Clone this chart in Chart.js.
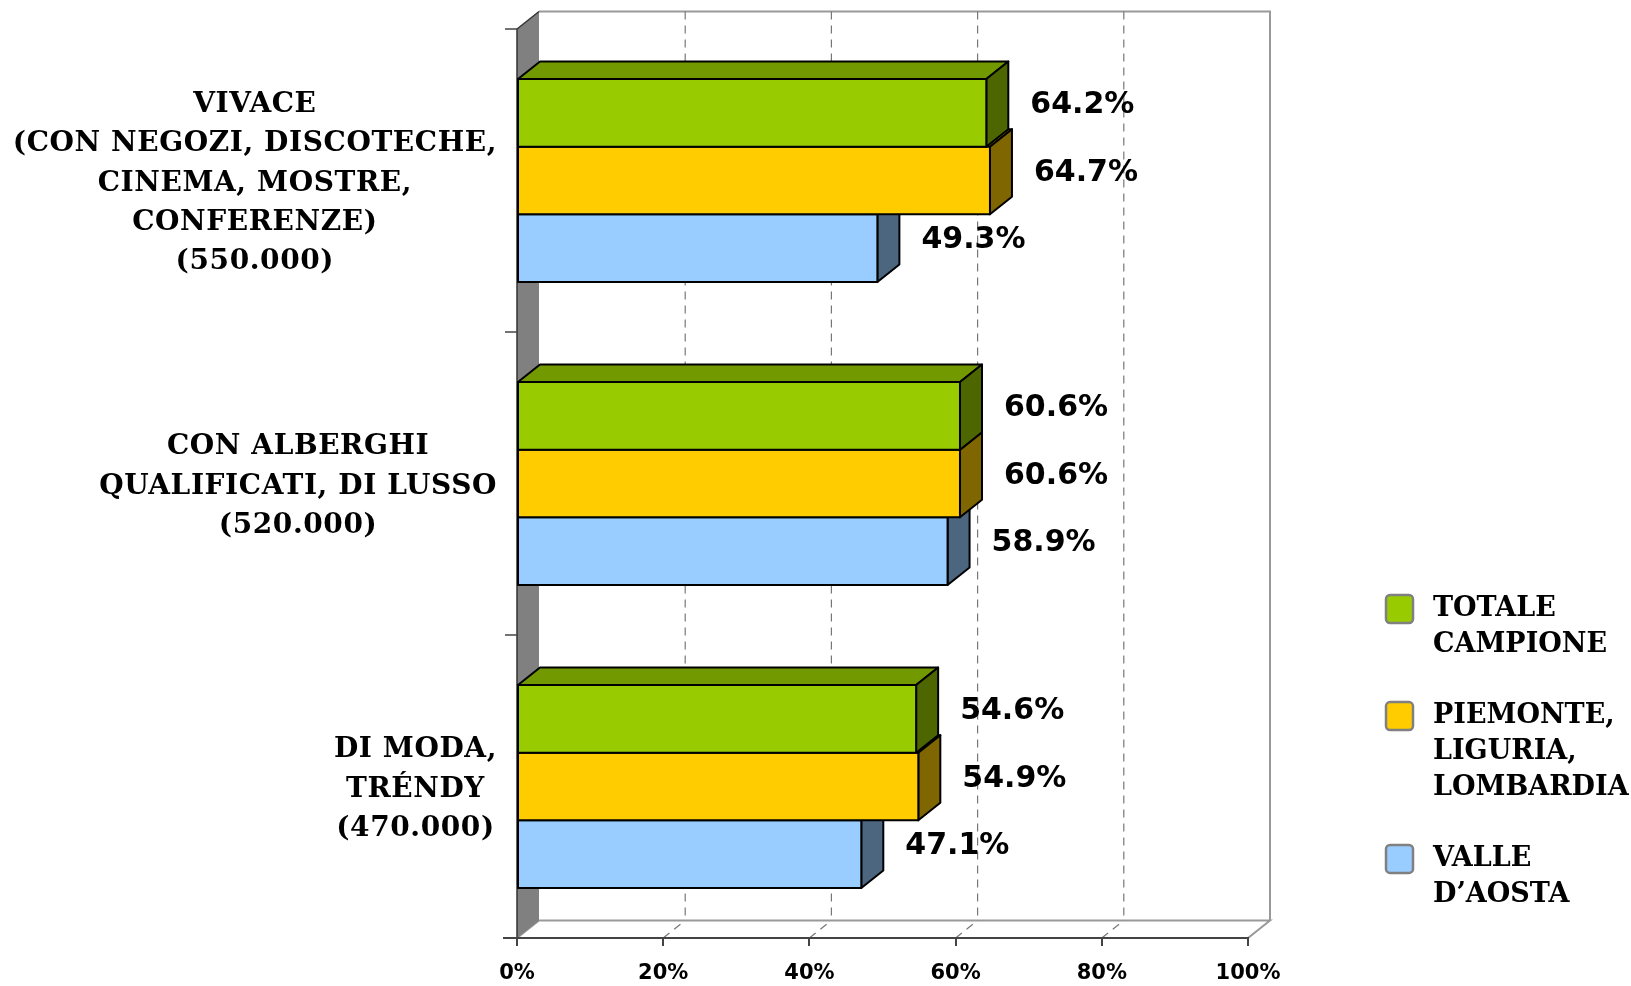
<!DOCTYPE html>
<html>
<head>
<meta charset="utf-8">
<script src="https://cdn.jsdelivr.net/npm/chart.js@4.4.1/dist/chart.umd.min.js"></script>
<style>
  html, body { margin: 0; padding: 0; background: #fff; }
</style>
</head>
<body>
<canvas id="myChart" width="1631" height="986"></canvas>
<script>
// categorie (righe dell'etichetta)
const categories = [
  ['VIVACE', '(CON NEGOZI, DISCOTECHE,', 'CINEMA, MOSTRE,', 'CONFERENZE)', '(550.000)'],
  ['CON ALBERGHI', 'QUALIFICATI, DI LUSSO', '(520.000)'],
  ['DI MODA,', 'TRÉNDY', '(470.000)']
];
const totaleCampione = [64.2, 60.6, 54.6];
const nordOvest = [64.7, 60.6, 54.9];
const valleAosta = [49.3, 58.9, 47.1];
const seriesNames = ['TOTALE CAMPIONE', 'PIEMONTE, LIGURIA, LOMBARDIA', 'VALLE D’AOSTA'];
const legendLines = [['TOTALE', 'CAMPIONE'], ['PIEMONTE,', 'LIGURIA,', 'LOMBARDIA'], ['VALLE', 'D’AOSTA']];
const xTicks = [0, 20, 40, 60, 80, 100];

const frontColors = ['#99CC00', '#FFCC00', '#99CCFF'];
const topColors = ['#739900', '#BF9900', '#7399BF'];
const sideColors = ['#4D6600', '#806600', '#4D6680'];

const DX = 22;
const DY = 17.5;
const serif = '"DejaVu Serif", serif';
const sans = '"DejaVu Sans", Verdana, sans-serif';

function poly(ctx, pts, fill, stroke, lw) {
    ctx.beginPath();
    ctx.moveTo(pts[0][0], pts[0][1]);
    for (let i = 1; i < pts.length; i++) ctx.lineTo(pts[i][0], pts[i][1]);
    ctx.closePath();
    if (fill) { ctx.fillStyle = fill; ctx.fill(); }
    if (stroke) { ctx.strokeStyle = stroke; ctx.lineWidth = lw || 1; ctx.stroke(); }
}

// pareti, pavimento e griglia
const walls = {
    id: 'walls',
    beforeDraw(chart) {
        const { ctx, chartArea: a, scales } = chart;
        const L = a.left, R = a.right, T = a.top, B = a.bottom;
        ctx.save();
        // parete di fondo
        poly(ctx, [[L + DX, T - DY], [R + DX, T - DY], [R + DX, B - DY], [L + DX, B - DY]], '#fff', null);
        // pavimento
        poly(ctx, [[L, B], [R, B], [R + DX, B - DY], [L + DX, B - DY]], '#fff', '#999', 2);
        ctx.beginPath();
        ctx.moveTo(L + DX, T - DY);
        ctx.lineTo(R + DX, T - DY);
        ctx.lineTo(R + DX, B - DY);
        ctx.strokeStyle = '#999';
        ctx.lineWidth = 2;
        ctx.stroke();
        // griglia tratteggiata
        ctx.setLineDash([8, 6]);
        ctx.strokeStyle = '#777';
        ctx.lineWidth = 1.2;
        xTicks.slice(1, -1).forEach(v => {
            const px = scales.x.getPixelForValue(v);
            ctx.beginPath();
            ctx.moveTo(px + DX, T - DY);
            ctx.lineTo(px + DX, B - DY);
            ctx.moveTo(px, B);
            ctx.lineTo(px + DX, B - DY);
            ctx.stroke();
        });
        ctx.setLineDash([]);
        // parete laterale
        poly(ctx, [[L, T], [L + DX, T - DY], [L + DX, B - DY], [L, B]], '#808080', null);
        ctx.beginPath();
        ctx.moveTo(L + DX, T - DY);
        ctx.lineTo(L, T);
        ctx.lineTo(L, B);
        ctx.strokeStyle = '#333';
        ctx.lineWidth = 1.5;
        ctx.stroke();
        // linea frontale del pavimento, un po' oltre lo zero
        ctx.beginPath();
        ctx.moveTo(L - 14, B);
        ctx.lineTo(L, B);
        ctx.strokeStyle = '#444';
        ctx.lineWidth = 2;
        ctx.stroke();
        // tacche asse categorie
        const step = scales.y.getPixelForValue(1) - scales.y.getPixelForValue(0);
        ctx.strokeStyle = '#444';
        ctx.lineWidth = 1.5;
        for (let i = 0; i < categories.length; i++) {
            const yy = scales.y.getPixelForValue(i) - step / 2;
            ctx.beginPath();
            ctx.moveTo(L - 12, yy);
            ctx.lineTo(L, yy);
            ctx.stroke();
        }
        ctx.restore();
    }
};

// barre 3D
const bars3d = {
    id: 'bars3d',
    beforeDatasetsDraw(chart) {
        const ctx = chart.ctx;
        ctx.save();
        ctx.lineJoin = 'round';
        const n = chart.data.datasets.length;
        for (let j = categories.length - 1; j >= 0; j--) {
            for (let i = n - 1; i >= 0; i--) {
                const el = chart.getDatasetMeta(i).data[j];
                const p = el.getProps(['x', 'y', 'base', 'height'], true);
                const x1 = p.base, x2 = p.x;
                const yt = p.y - p.height / 2, yb = p.y + p.height / 2;
                poly(ctx, [[x1, yt], [x1 + DX, yt - DY], [x2 + DX, yt - DY], [x2, yt]], topColors[i], '#000', 2);
                poly(ctx, [[x2, yt], [x2 + DX, yt - DY], [x2 + DX, yb - DY], [x2, yb]], sideColors[i], '#000', 2);
                poly(ctx, [[x1, yt], [x2, yt], [x2, yb], [x1, yb]], frontColors[i], '#000', 2);
            }
        }
        ctx.restore();
        return false;
    }
};

// etichette valori, categorie e legenda
const texts = {
    id: 'texts',
    afterDraw(chart) {
        const { ctx, chartArea: a, scales } = chart;
        ctx.save();
        ctx.fillStyle = '#000';
        // valori
        ctx.font = 'bold 30px ' + sans;
        ctx.textAlign = 'left';
        ctx.textBaseline = 'middle';
        chart.data.datasets.forEach((ds, i) => {
            chart.getDatasetMeta(i).data.forEach((el, j) => {
                ctx.fillText(ds.data[j].toFixed(1) + '%', el.x + DX + 22, el.y - DY / 2 + 1);
            });
        });
        // categorie
        ctx.font = 'bold 28px ' + serif;
        ctx.letterSpacing = '0.6px';
        ctx.textAlign = 'center';
        const lh = 39.3;
        const right = a.left - 20;
        categories.forEach((lines, j) => {
            const cy = scales.y.getPixelForValue(j) + 3;
            const w = Math.max(...lines.map(s => ctx.measureText(s).width));
            const cx = right - w / 2;
            const y0 = cy - (lines.length - 1) * lh / 2;
            lines.forEach((s, k) => ctx.fillText(s, cx, y0 + k * lh));
        });
        // legenda
        ctx.font = 'bold 27px ' + serif;
        ctx.letterSpacing = '0px';
        ctx.textAlign = 'left';
        let y = 608;
        const llh = 35.7;
        legendLines.forEach((lines, i) => {
            ctx.beginPath();
            ctx.roundRect(1386, y - 13, 27, 28, 4);
            ctx.fillStyle = frontColors[i];
            ctx.fill();
            ctx.strokeStyle = '#808080';
            ctx.lineWidth = 2.5;
            ctx.stroke();
            ctx.fillStyle = '#000';
            lines.forEach((s, k) => ctx.fillText(s, 1433, y + 1 + k * llh));
            y += (lines.length + 1) * llh;
        });
        ctx.restore();
    }
};

const ctx = document.getElementById('myChart').getContext('2d');
new Chart(ctx, {
    type: 'bar',
    data: {
        labels: categories,
        datasets: [
            { label: seriesNames[0], data: totaleCampione, backgroundColor: frontColors[0] },
            { label: seriesNames[1], data: nordOvest, backgroundColor: frontColors[1] },
            { label: seriesNames[2], data: valleAosta, backgroundColor: frontColors[2] }
        ]
    },
    options: {
        indexAxis: 'y',
        responsive: false,
        animation: false,
        layout: { padding: { left: 517, right: 383, top: 29, bottom: 0 } },
        datasets: { bar: { categoryPercentage: 0.67, barPercentage: 1 } },
        scales: {
            x: {
                min: 0,
                max: 100,
                afterBuildTicks(scale) { scale.ticks = xTicks.map(v => ({ value: v })); },
                afterFit(scale) { scale.height = 48; },
                grid: { drawOnChartArea: false, drawTicks: true, tickLength: 8, color: '#444', lineWidth: 2 },
                border: { color: '#444', width: 2 },
                ticks: {
                    padding: 15,
                    color: '#000',
                    font: { family: sans, size: 21, weight: 'bold' },
                    callback: v => v + '%'
                }
            },
            y: { display: false }
        },
        plugins: {
            legend: { display: false },
            tooltip: { enabled: false }
        }
    },
    plugins: [walls, bars3d, texts]
});
</script>
</body>
</html>
